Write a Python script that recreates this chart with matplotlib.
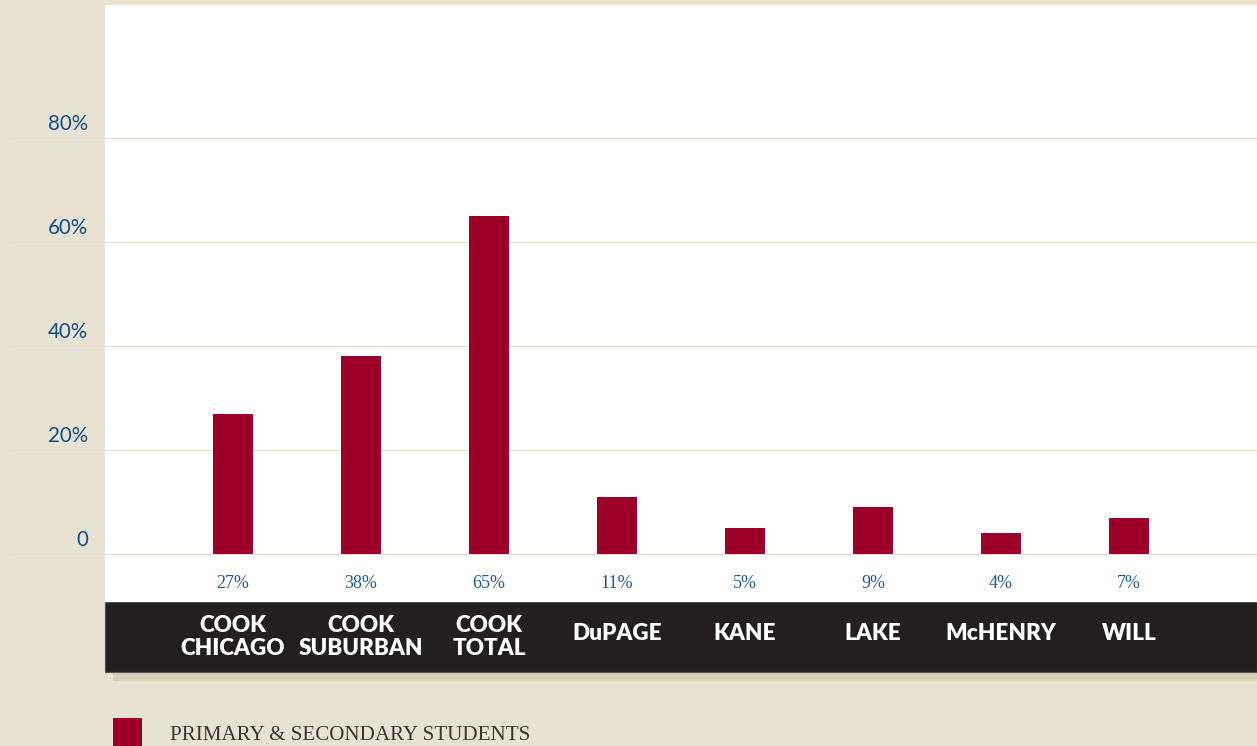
import matplotlib.pyplot as plt
from matplotlib.patches import Rectangle
from matplotlib.transforms import blended_transform_factory

counties = ["COOK\nCHICAGO", "COOK\nSUBURBAN", "COOK\nTOTAL", "DuPAGE", "KANE", "LAKE", "McHENRY", "WILL"]
students = [27, 38, 65, 11, 5, 9, 4, 7]
y_ticks = [0, 20, 40, 60, 80]
y_tick_labels = ["0", "20%", "40%", "60%", "80%"]
legend_label = "PRIMARY & SECONDARY STUDENTS"

W, H = 1257, 746
beige = "#E8E2D3"
shadow = "#D9D0B8"
band = "#231F20"
red = "#9C0029"
blue = "#0F4F86"
grid = "#E4DDC8"


def fx(x):
    return x / W


def fy(y):
    return 1 - y / H


fig = plt.figure(figsize=(W / 72, H / 72), dpi=72, facecolor=beige)

# white plot panel from the top strip down to the label band
ax = fig.add_axes([fx(105), fy(602), fx(W - 105), (602 - 5) / H])
ax.set_facecolor("white")
for s in ax.spines.values():
    s.set_visible(False)
ax.set_xticks([])
ax.set_yticks([])
ax.set_xlim(-1, 8)
ax.set_ylim(-(602 - 554) / 5.2, (554 - 5) / 5.2)

x = list(range(len(counties)))
ax.hlines(y_ticks, -1.75, 8, colors=grid, linewidth=1.2, clip_on=False, zorder=1)
ax.bar(x, students, width=0.3125, color=red, zorder=2)

for t, lab in zip(y_ticks, y_tick_labels):
    ax.annotate(lab, xy=(-1, t), xytext=(-17, 14), textcoords="offset points",
                ha="right", va="center", fontsize=20.5, family="Lato",
                color=blue, annotation_clip=False)

for i, v in zip(x, students):
    ax.annotate(f"{v}%", xy=(i, 0), xytext=(0, -30), textcoords="offset points",
                ha="center", va="center", fontsize=18, family="Liberation Serif",
                color="#1E5A92")

# dark label band with its drop shadow
fig.patches.append(Rectangle((fx(113), fy(680)), fx(W - 113), 8 / H,
                             transform=fig.transFigure, color=shadow, zorder=-2))
fig.patches.append(Rectangle((fx(105), fy(672)), fx(W - 105), 70 / H,
                             transform=fig.transFigure, facecolor=band,
                             edgecolor="#555555", linewidth=1.2, zorder=-1))

trans = blended_transform_factory(ax.transData, fig.transFigure)
for i, name in zip(x, counties):
    ypos = 637 if "\n" in name else 633
    ax.text(i, fy(ypos), name, transform=trans, ha="center", va="center",
            fontsize=22.5, family="Lato", fontweight="heavy", color="white",
            linespacing=1.15, clip_on=False)

# legend
fig.patches.append(Rectangle((fx(113), fy(746)), fx(28), 28 / H,
                             transform=fig.transFigure, color=red))
fig.text(fx(170), fy(736), legend_label, ha="left", va="center", fontsize=21,
         family="Liberation Serif", color="#3A3535")

fig.savefig("out.png", dpi=72, facecolor=beige)
